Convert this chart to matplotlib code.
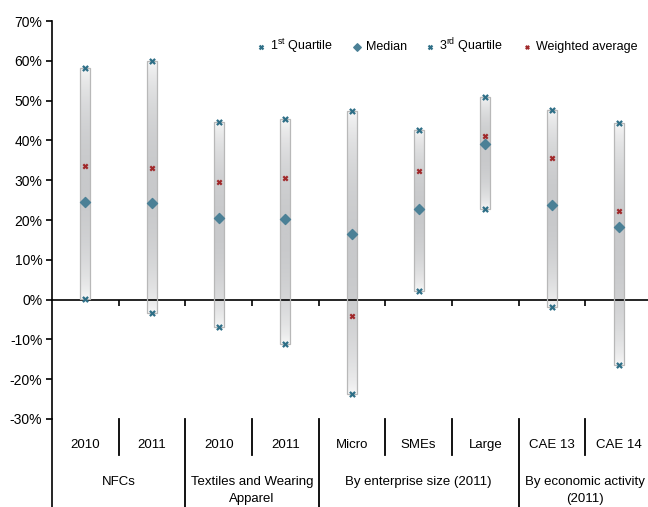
import numpy as np
import matplotlib.pyplot as plt
import matplotlib.transforms as mtransforms
from matplotlib.colors import LinearSegmentedColormap
from matplotlib.patches import Rectangle

plt.rcParams['font.family'] = ['Liberation Sans', 'DejaVu Sans']
plt.rcParams['mathtext.default'] = 'regular'

# data (shares)
sub_labels = ["2010", "2011", "2010", "2011", "Micro", "SMEs", "Large", "CAE 13", "CAE 14"]
group_labels = ["NFCs", "Textiles and Wearing\nApparel", "By enterprise size (2011)",
                "By economic activity\n(2011)"]
group_sizes = [2, 2, 3, 2]
q1 = [0.001, -0.033, -0.068, -0.111, -0.236, 0.022, 0.227, -0.018, -0.164]
median = [0.245, 0.243, 0.205, 0.202, 0.166, 0.228, 0.391, 0.238, 0.182]
q3 = [0.582, 0.600, 0.446, 0.453, 0.474, 0.427, 0.510, 0.477, 0.443]
wavg = [0.336, 0.331, 0.296, 0.305, -0.042, 0.322, 0.412, 0.356, 0.222]

teal = "#2f6f87"
med_col = "#4b8096"
red = "#a0282a"
fs = 9.5

fig = plt.figure(figsize=(6.48, 5.07), dpi=100)
ax = fig.add_axes([52 / 648, (507 - 419) / 507, 1 - 52 / 648, (419 - 21) / 507])

x = np.arange(len(sub_labels))
w = 0.15

# gradient bars from Q1 to Q3
cmap = LinearSegmentedColormap.from_list("g", ["#fafafa", "#c8c9cb"])
t = np.linspace(0, 1, 200)
prof = np.sin(np.pi * t) ** 0.6
grad = prof[:, None]
for xi, lo, hi in zip(x, q1, q3):
    ax.imshow(grad, extent=[xi - w / 2, xi + w / 2, lo, hi], aspect='auto',
              cmap=cmap, vmin=0, vmax=1, zorder=2, origin='lower')
    ax.add_patch(Rectangle((xi - w / 2, lo), w, hi - lo, fill=False,
                           edgecolor="#b8b8b8", lw=0.9, zorder=3))

ax.scatter(x, q1, marker='x', s=14, color=teal, linewidths=1.6, zorder=5,
           label="1$^{st}$ Quartile")
ax.scatter(x, median, marker='D', s=26, color=med_col, zorder=5, label="Median")
ax.scatter(x, q3, marker='x', s=14, color=teal, linewidths=1.6, zorder=5,
           label="3$^{rd}$ Quartile")
ax.scatter(x, wavg, marker='x', s=10, color=red, linewidths=1.6, zorder=5,
           label="Weighted average")

ax.set_xlim(-0.5, 8.44)
ax.set_ylim(-0.3, 0.7)
ax.set_yticks(np.arange(-0.3, 0.71, 0.1))
ax.set_yticklabels([f"{int(round(v * 100))}%" for v in np.arange(-0.3, 0.71, 0.1)], fontsize=fs + 0.5)
ax.tick_params(axis='y', direction='out', length=4, width=1.2, pad=3)

bounds = np.arange(0.5, len(sub_labels) - 1, 1.0)
ax.set_xticks(bounds)
ax.set_xticklabels([])
ax.tick_params(axis='x', direction='out', length=4, width=1.2)
ax.spines['bottom'].set_position(('data', 0))
ax.spines['bottom'].set_linewidth(1.2)
ax.spines['left'].set_linewidth(1.2)
ax.spines['top'].set_visible(False)
ax.spines['right'].set_visible(False)

# category area below the plot
tr = mtransforms.blended_transform_factory(ax.transData, ax.transAxes)
ax.plot([0, 0], [0, -0.23], transform=ax.transAxes, color='black', lw=1.2, clip_on=False)
group_edges = np.cumsum(group_sizes)[:-1] - 0.5
for b in bounds:
    bottom = -0.23 if b in group_edges else -0.0905
    ax.plot([b, b], [0, bottom], transform=tr, color='black', lw=1.3, clip_on=False)
for xi, lab in zip(x, sub_labels):
    ax.text(xi, -0.065, lab, transform=tr, ha='center', va='center', fontsize=fs)
start = 0
for lab, n in zip(group_labels, group_sizes):
    cx = start + (n - 1) / 2
    ax.text(cx, -0.142, lab, transform=tr, ha='center', va='top', fontsize=fs,
            linespacing=1.6)
    start += n

ax.legend(loc='upper right', bbox_to_anchor=(0.99, 0.975), ncol=4, frameon=False,
          fontsize=9, handlelength=0.8, handletextpad=0.3, columnspacing=1.5,
          borderaxespad=0, scatterpoints=1, markerscale=0.75)

fig.savefig("out.png", dpi=100)
